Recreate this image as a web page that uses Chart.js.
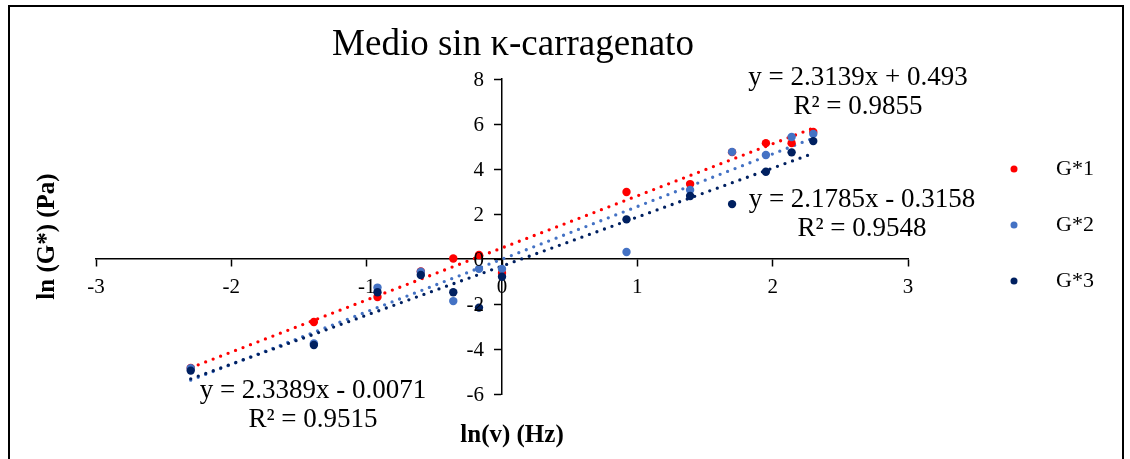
<!DOCTYPE html>
<html>
<head>
<meta charset="utf-8">
<script src="https://cdn.jsdelivr.net/npm/chart.js@4"></script>
<style>
  body { margin: 0; background: #fff; }
  #wrap { position: relative; width: 1130px; height: 459px; }
  #frame { position: absolute; left: 8px; top: 5px; width: 1116px; height: 460px;
           border: 2px solid #000; border-bottom: none; box-sizing: border-box; pointer-events: none; }
</style>
</head>
<body>
<div id="wrap">
  <canvas id="chart" width="1130" height="459"></canvas>
  <div id="frame"></div>
</div>
<script>
// ln(frecuencia) en Hz
const lnFreq = [-2.30, -1.39, -0.92, -0.60, -0.36, -0.17, 0, 0.92, 1.39, 1.70, 1.95, 2.14, 2.30];

const g1 = [-4.84, -2.80, -1.69, -0.55, 0.02, 0.18, -0.62, 2.98, 3.33, 4.75, 5.15, 5.15, 5.65];
const g2 = [-4.85, -3.75, -1.27, -0.56, -1.87, -0.44, -0.44, 0.31, 3.07, 4.76, 4.62, 5.42, 5.56];
const g3 = [-4.96, -3.82, -1.48, -0.71, -1.48, -2.16, -0.79, 1.76, 2.80, 2.44, 3.88, 4.74, 5.24];

const seriesNames = ['G*1', 'G*2', 'G*3'];
const seriesColors = ['#ff0000', '#4472c4', '#002060'];

// lineas de tendencia (de las ecuaciones del grafico)
const slopes = [2.3139, 2.3389, 2.1785];
const intercepts = [0.493, -0.0071, -0.3158];
const eqTexts = ['y = 2.3139x + 0.493', 'y = 2.3389x - 0.0071', 'y = 2.1785x - 0.3158'];
const r2Texts = ['R² = 0.9855', 'R² = 0.9515', 'R² = 0.9548'];

const xTicks = [-3, 3, 1];
const yTicks = [-6, 8, 2];

const SERIF = "'Liberation Serif', 'Times New Roman', serif";
const TICK_SIZE = 21;

function toPoints(ys) {
  return lnFreq.map((x, i) => ({ x, y: ys[i] }));
}

function trendPoints(i) {
  const x0 = Math.min(...lnFreq), x1 = Math.max(...lnFreq);
  return [x0, x1].map(x => ({ x, y: slopes[i] * x + intercepts[i] }));
}

const values = [g1, g2, g3];

const pointSets = values.map((ys, i) => ({
  label: seriesNames[i],
  data: toPoints(ys),
  backgroundColor: seriesColors[i],
  borderWidth: 0,
  pointRadius: 4.2,
  order: 3 - i,
}));

const trendSets = values.map((ys, i) => ({
  type: 'line',
  label: 'trend' + (i + 1),
  data: trendPoints(i),
  borderColor: seriesColors[i],
  borderWidth: 3.3,
  borderDash: [0, 8],
  borderCapStyle: 'round',
  pointRadius: 0,
  fill: false,
  order: 6 - i,
}));

// textos: titulo, ejes, ecuaciones, etiquetas del eje y y leyenda
const annotations = {
  id: 'annotations',
  afterDraw(chart) {
    const { ctx, chartArea: a, scales } = chart;
    ctx.save();
    ctx.fillStyle = '#000';
    ctx.textAlign = 'center';
    ctx.textBaseline = 'middle';

    ctx.font = `37px ${SERIF}`;
    ctx.fillText('Medio sin κ-carragenato', 513, 45);

    ctx.font = `bold 25px ${SERIF}`;
    ctx.fillText('ln(v) (Hz)', (a.left + a.right) / 2 + 10, 436);
    ctx.save();
    ctx.translate(48, (a.top + a.bottom) / 2);
    ctx.rotate(-Math.PI / 2);
    ctx.fillText('ln (G*) (Pa)', 0, 0);
    ctx.restore();

    // el eje y cruza en x = 0: etiquetas a la izquierda de las marcas
    const axisX = scales.x.getPixelForValue(0);
    ctx.font = `${TICK_SIZE}px ${SERIF}`;
    ctx.textAlign = 'right';
    scales.y.ticks.forEach(t => {
      ctx.fillText(String(t.value), axisX - 18, scales.y.getPixelForValue(t.value) + 1);
    });

    ctx.textAlign = 'center';
    ctx.font = `27px ${SERIF}`;
    const eqPos = [[858, 78], [313, 391], [862, 200]];
    eqPos.forEach(([x, y], i) => {
      ctx.fillText(eqTexts[i], x, y);
      ctx.fillText(r2Texts[i], x, y + 29);
    });

    ctx.font = `22px ${SERIF}`;
    ctx.textAlign = 'left';
    seriesNames.forEach((name, i) => {
      const y = 169 + i * 56;
      ctx.fillStyle = seriesColors[i];
      ctx.beginPath();
      ctx.arc(1014, y, 3.5, 0, Math.PI * 2);
      ctx.fill();
      ctx.fillStyle = '#000';
      ctx.fillText(name, 1056, y);
    });
    ctx.restore();
  }
};

const axisGrid = { drawOnChartArea: false, tickLength: 7, tickColor: '#000', tickWidth: 1.5 };
const axisBorder = { color: '#000', width: 1.5 };

new Chart(document.getElementById('chart'), {
  type: 'scatter',
  data: { datasets: [...pointSets, ...trendSets] },
  options: {
    responsive: false,
    animation: false,
    layout: { padding: { left: 96, right: 222, top: 79, bottom: 65 } },
    plugins: { legend: { display: false }, tooltip: { enabled: false } },
    scales: {
      x: {
        type: 'linear',
        position: { y: 0 },
        min: xTicks[0], max: xTicks[1],
        ticks: { stepSize: xTicks[2], color: '#000', padding: 9, font: { family: SERIF, size: TICK_SIZE } },
        grid: axisGrid,
        border: axisBorder,
      },
      y: {
        type: 'linear',
        position: { x: 0 },
        min: yTicks[0], max: yTicks[1],
        ticks: { stepSize: yTicks[2], display: false },
        grid: axisGrid,
        border: axisBorder,
      },
    },
  },
  plugins: [annotations],
});
</script>
</body>
</html>
